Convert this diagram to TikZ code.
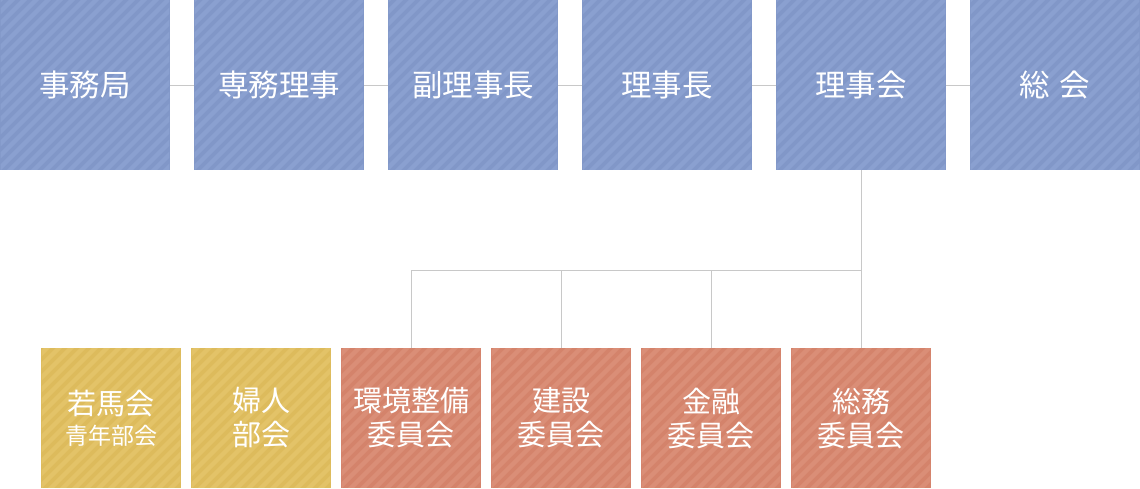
\documentclass[tikz,border=0pt]{standalone}
\usepackage{fontspec}
\setmainfont{Noto Sans CJK JP}
\usetikzlibrary{calc}
\definecolor{topc}{RGB}{129,151,200}
\definecolor{topl}{RGB}{138,160,208}
\definecolor{youthc}{RGB}{221,187,92}
\definecolor{youthl}{RGB}{227,195,104}
\definecolor{commc}{RGB}{212,131,107}
\definecolor{comml}{RGB}{218,142,119}
\definecolor{linec}{RGB}{200,200,200}

\tikzset{
  stripes/.style={path picture={
    \clip ($(path picture bounding box.south west)+(0.6pt,0.6pt)$) rectangle
          ($(path picture bounding box.north east)+(-0.6pt,-0.6pt)$);
    \foreach \k in {-30,...,30}{
    \draw[#1,line width=4.3pt] ($(path picture bounding box.south west)+(\k*12pt,-10pt)$) -- ++(320pt,320pt);}}},
  topbox/.style={fill=topc,stripes=topl,minimum width=170pt,minimum height=170pt,inner sep=0pt,
    text=white,font=\fontsize{30.5}{36}\selectfont,align=center},
  youthbox/.style={fill=youthc,stripes=youthl,minimum width=140pt,minimum height=140pt,inner sep=0pt,
    text=white,font=\fontsize{29}{34}\selectfont,align=center},
  commbox/.style={youthbox,fill=commc,stripes=comml},
  conn/.style={draw=linec,line width=1pt}
}

\begin{document}
\begin{tikzpicture}[x=1pt,y=-1pt]
\useasboundingbox (0,0) rectangle (1140,488);

%================= top row =================
\node[topbox] (kyoku)   at (85,85)  {事務局};
\node[topbox] (senmu)   at (279,85) {専務理事};
\node[topbox] (fuku)    at (473,85) {副理事長};
\node[topbox] (richo)   at (667,85) {理事長};
\node[topbox] (rijikai) at (861,85) {理事会};
\node[topbox] (sokai)   at (1055,85) {総\hspace{10pt}会};

\draw[conn] (kyoku) -- (senmu);
\draw[conn] (senmu) -- (fuku);
\draw[conn] (fuku) -- (richo);
\draw[conn] (richo) -- (rijikai);
\draw[conn] (rijikai) -- (sokai);

%================= bottom row =================
\node[youthbox] (seinen)   at (111,418) {若馬会\\[-4pt]{\fontsize{23}{27}\selectfont 青年部会}};
\node[youthbox] (fujin)    at (261,418) {婦人\\部会};
\node[commbox]  (kankyo)   at (411,418) {環境整備\\委員会};
\node[commbox]  (kensetsu) at (561,418) {建設\\委員会};
\node[commbox]  (kinyu)    at (711,418) {金融\\委員会};
\node[commbox]  (somu)     at (861,418) {総務\\委員会};

% --- branches under the board
\coordinate (split) at (861,270);
\draw[conn] (rijikai) -- (somu);
\draw[conn] (kankyo.north) |- (split);
\draw[conn] (kensetsu.north) -- (kensetsu.north |- split);
\draw[conn] (kinyu.north) -- (kinyu.north |- split);
\end{tikzpicture}
\end{document}
